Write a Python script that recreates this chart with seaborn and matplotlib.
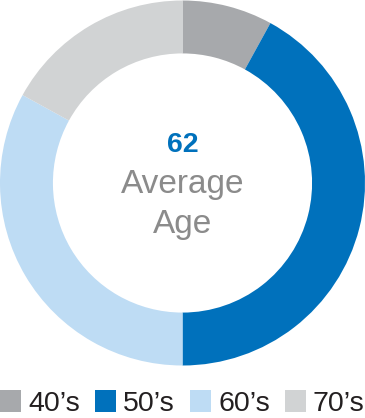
import matplotlib
matplotlib.use("Agg")
import matplotlib.pyplot as plt
import seaborn as sns
from matplotlib.patches import Rectangle

categories = ["40\u2019s", "50\u2019s", "60\u2019s", "70\u2019s"]
shares = [8, 42, 33, 17]
colors = ["#a7a9ac", "#0071bc", "#bedcf4", "#d1d3d4"]
center_value = "62"
center_label = ["Average", "Age"]

sns.set_theme(style="white")
plt.rcParams["font.family"] = ["Liberation Sans", "DejaVu Sans"]

W, H = 365, 418
fig = plt.figure(figsize=(W / 100, H / 100), dpi=100)
ax = fig.add_axes([0, 1 - 366 / H, 1, 366 / H])
ax.pie(shares, colors=colors, startangle=90, counterclock=False,
       radius=1.0, wedgeprops=dict(width=0.29, linewidth=0))
ax.set_xlim(-1, 1)
ax.set_ylim(-1, 1)
ax.set_aspect("equal")
ax.axis("off")

def ypix(p):
    return (183 - p) / 183

ax.text(0, ypix(152.3), center_value, ha="center", va="baseline",
        fontsize=20.5, fontweight="bold", color="#0071bc")
ax.text(0, ypix(193.3), center_label[0], ha="center", va="baseline",
        fontsize=24, color="#8b8b8b")
ax.text(0, ypix(233), center_label[1], ha="center", va="baseline",
        fontsize=24, color="#8b8b8b")

# legend
xs = [0, 95, 190, 285]
for x0, lab, c in zip(xs, categories, colors):
    fig.patches.append(Rectangle((x0 / W, 1 - 412 / H), 21 / W, 22 / H,
                                 transform=fig.transFigure, facecolor=c,
                                 edgecolor="none"))
    fig.text((x0 + 28) / W, 1 - 411 / H, lab, ha="left", va="baseline",
             fontsize=20.5, color="#231f20")

fig.savefig("out.png", dpi=100)
